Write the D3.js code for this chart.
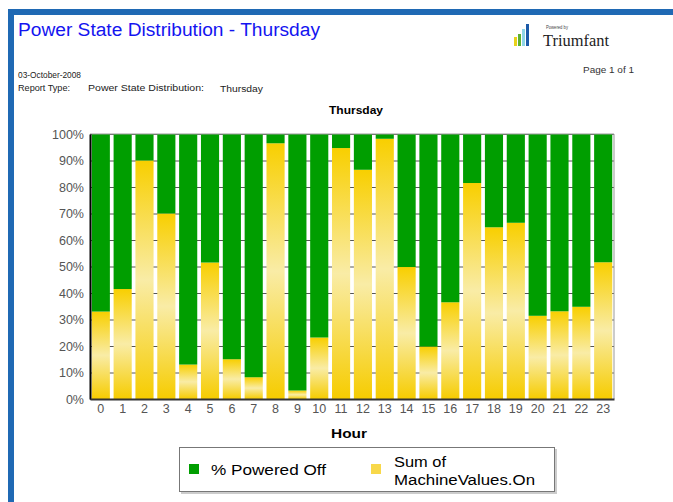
<!DOCTYPE html>
<html>
<head>
<meta charset="utf-8">
<script src="https://cdn.jsdelivr.net/npm/d3@7"></script>
<style>
  body { margin: 0; background: #fff; }
  svg { font-family: "Liberation Sans", Arial, sans-serif; }
</style>
</head>
<body>
<div id="chart"></div>
<script>
// hours of the day
const hours = d3.range(0, 24).map(String);
// percent of machines on, per hour
const onValues = [33, 41.5, 90, 70, 13, 51.5, 15, 8.2, 96.5, 3.2, 23.2, 94.7, 86.5, 98.2, 49.8, 19.8,
                  36.5, 81.5, 64.8, 66.5, 31.4, 33.1, 34.8, 51.6];
// percent powered off is the rest
const offValues = onValues.map(v => 100 - v);
const yTicks = [0, 10, 20, 30, 40, 50, 60, 70, 80, 90, 100];
const legendLabels = ["% Powered Off", "Sum of|MachineValues.On"];

const W = 673, H = 502;
const margin = {left: 90, right: 59, top: 134, bottom: 103};

const svg = d3.select("#chart").append("svg")
    .attr("width", W)
    .attr("height", H);

const defs = svg.append("defs");
const grad = defs.append("linearGradient")
    .attr("id", "yel")
    .attr("x1", 0).attr("y1", 0).attr("x2", 0).attr("y2", 1);
grad.append("stop").attr("offset", "0%").attr("stop-color", "#f8cf00");
grad.append("stop").attr("offset", "50%").attr("stop-color", "#f9eca6");
grad.append("stop").attr("offset", "100%").attr("stop-color", "#f6cc00");

// blue page frame
svg.append("rect").attr("x", 8).attr("y", 9).attr("width", W - 8).attr("height", 6).attr("fill", "#1f69b4");
svg.append("rect").attr("x", 8).attr("y", 9).attr("width", 6).attr("height", H - 9).attr("fill", "#1f69b4");

// stretched text helper, the report renders its fonts wide
function label(parent, x, y, size, txt, len) {
  const t = parent.append("text").attr("x", x).attr("y", y).attr("font-size", size).text(txt);
  if (len) t.attr("textLength", len).attr("lengthAdjust", "spacingAndGlyphs");
  return t;
}

// header
label(svg, 18, 36, 18, "Power State Distribution - Thursday", 302).attr("fill", "#1414f0");
label(svg, 18, 78, 8.5, "03-October-2008", 63).attr("fill", "#222");
label(svg, 18, 91, 8.5, "Report Type:", 52).attr("fill", "#222");
label(svg, 88, 91, 8.5, "Power State Distribution:", 116).attr("fill", "#222");
label(svg, 220, 92, 8.5, "Thursday", 43).attr("fill", "#222");
label(svg, 583, 73, 8.5, "Page 1 of 1", 51).attr("fill", "#333");

// logo
const logo = svg.append("g");
const logoBars = [[514, 37, "#e8d21c"], [518, 34, "#5cb030"], [522, 29, "#8fd6e6"], [526, 24, "#1c5aa8"]];
logoBars.forEach(b => {
  logo.append("rect").attr("x", b[0]).attr("y", b[1]).attr("width", 3).attr("height", 46 - b[1]).attr("fill", b[2]);
});
label(logo, 546, 29, 4.5, "Powered by", 22).attr("fill", "#444");
label(logo, 543, 46, 17, "Triumfant", 66)
    .style("font-family", "'Liberation Serif', 'DejaVu Serif', serif").attr("fill", "#222");

// chart
const x = d3.scaleBand()
    .domain(hours)
    .range([margin.left, W - margin.right])
    .paddingInner(0.17)
    .paddingOuter(0.08);

const y = d3.scaleLinear()
    .domain([0, 100])
    .range([H - margin.bottom, margin.top]);

label(svg, 329, 114, 10.5, "Thursday", 54).attr("font-weight", "bold");

// grid
svg.append("g").selectAll("line")
    .data(yTicks)
    .join("line")
    .attr("x1", margin.left).attr("x2", W - margin.right)
    .attr("y1", d => y(d) + 0.5).attr("y2", d => y(d) + 0.5)
    .attr("stroke", "#555").attr("stroke-width", 1);

// bars
const g = svg.append("g");
g.selectAll(".on")
    .data(onValues)
    .join("rect")
    .attr("class", "on")
    .attr("x", (d, i) => x(hours[i]))
    .attr("width", x.bandwidth())
    .attr("y", d => y(d))
    .attr("height", d => y(0) - y(d))
    .attr("fill", "url(#yel)");

g.selectAll(".off")
    .data(offValues)
    .join("rect")
    .attr("class", "off")
    .attr("x", (d, i) => x(hours[i]))
    .attr("width", x.bandwidth())
    .attr("y", y(100))
    .attr("height", (d, i) => y(onValues[i]) - y(100))
    .attr("fill", "#009e00");

// plot frame
svg.append("line").attr("x1", margin.left).attr("x2", W - margin.right)
    .attr("y1", y(100)).attr("y2", y(100)).attr("stroke", "#999");
svg.append("line").attr("x1", W - margin.right).attr("x2", W - margin.right)
    .attr("y1", y(100)).attr("y2", y(0)).attr("stroke", "#999");

// axes
const yAxis = svg.append("g")
    .attr("transform", `translate(${margin.left},0)`)
    .call(d3.axisLeft(y).tickValues(yTicks).tickFormat(d => d + "%").tickSize(0).tickPadding(6));
yAxis.select(".domain").attr("stroke", "#000").attr("stroke-width", 2);
yAxis.selectAll("text").attr("font-size", 12.5).attr("fill", "#555")
    .attr("font-family", "Liberation Sans, Arial, sans-serif");

const xAxis = svg.append("g")
    .attr("transform", `translate(0,${y(0)})`)
    .call(d3.axisBottom(x).tickSize(0).tickPadding(5));
xAxis.select(".domain").attr("stroke", "#333").attr("stroke-width", 2);
xAxis.selectAll("text").attr("font-size", 12.5).attr("fill", "#555")
    .attr("font-family", "Liberation Sans, Arial, sans-serif");

label(svg, 331, 438, 13, "Hour", 36).attr("font-weight", "bold");

// legend
const leg = svg.append("g");
leg.append("rect").attr("x", 181).attr("y", 449).attr("width", 376).attr("height", 45).attr("fill", "#ccc");
leg.append("rect").attr("x", 179.5).attr("y", 447.5).attr("width", 375).attr("height", 44)
    .attr("fill", "#fff").attr("stroke", "#777");
leg.append("rect").attr("x", 189).attr("y", 464).attr("width", 10).attr("height", 10).attr("fill", "#009e00");
label(leg, 211, 475, 14, legendLabels[0], 115);
leg.append("rect").attr("x", 371).attr("y", 464).attr("width", 10).attr("height", 10).attr("fill", "#f8d84a");
const legLines = legendLabels[1].split("|");
label(leg, 394, 467, 14, legLines[0], 52);
label(leg, 394, 485, 14, legLines[1], 141);
</script>
</body>
</html>
